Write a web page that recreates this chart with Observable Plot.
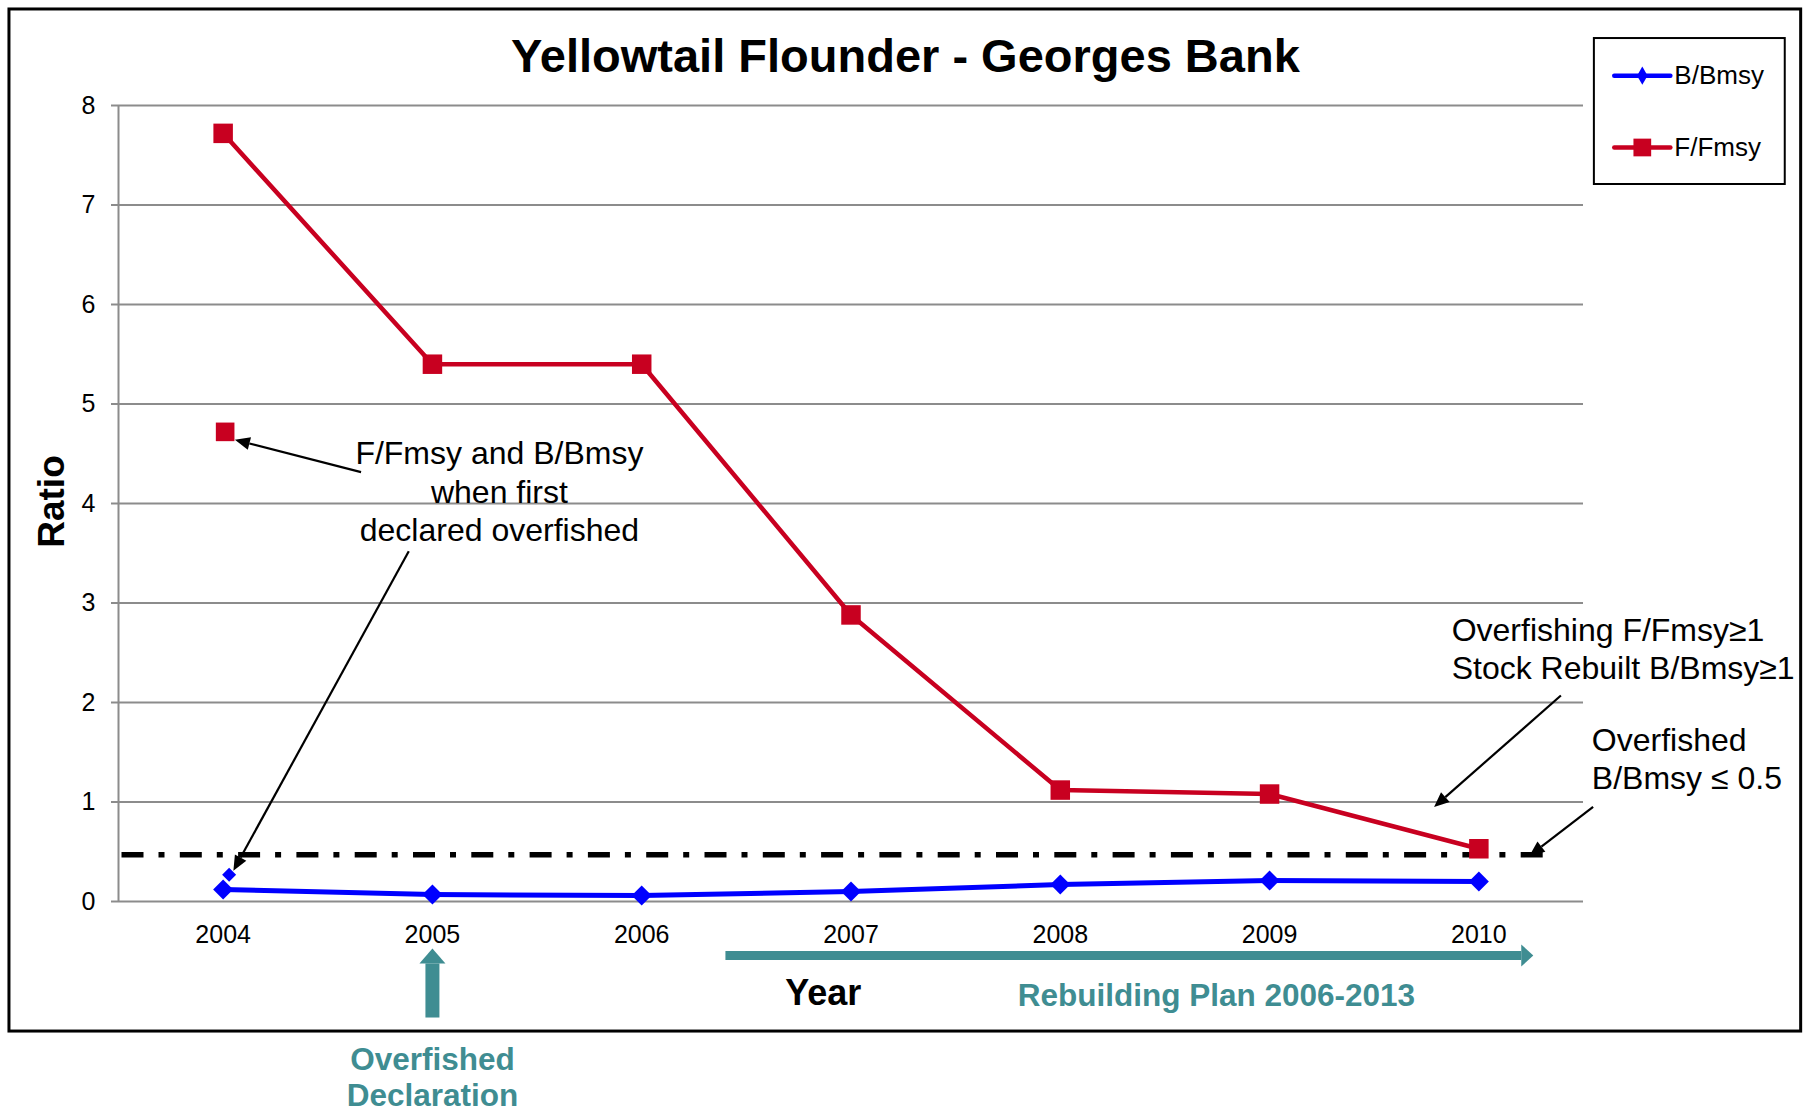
<!DOCTYPE html>
<html><head><meta charset="utf-8">
<script src="https://cdn.jsdelivr.net/npm/d3@7"></script>
<script src="https://cdn.jsdelivr.net/npm/@observablehq/plot@0.6"></script>
<style>body{margin:0;background:#fff;} svg{display:block}</style>
</head><body><div id="chart"></div>
<script>
// ---- data ----
const years = [2004, 2005, 2006, 2007, 2008, 2009, 2010];
const fRatio = [7.72, 5.40, 5.40, 2.88, 1.12, 1.08, 0.53];   // F/Fmsy
const bRatio = [0.12, 0.07, 0.06, 0.10, 0.17, 0.21, 0.20];   // B/Bmsy
const firstDeclaredYear = 2004;
const firstDeclaredF = 4.72;
const firstDeclaredB = 0.27;
const overfishedThreshold = 0.47;
const yTicks = [0, 1, 2, 3, 4, 5, 6, 7, 8];
const xTicks = years;
const seriesNames = ["B/Bmsy", "F/Fmsy"];
const titleText = "Yellowtail Flounder - Georges Bank";

// annotation anchors in data space (x = year, y = ratio)
const noteTexts = [
  {x: 2005.32, y: 4.666, text: "F/Fmsy and B/Bmsy\nwhen first\ndeclared overfished", anchor: "middle"},
  {x: 2009.87, y: 2.896, text: "Overfishing F/Fmsy\u22651\nStock Rebuilt B/Bmsy\u22651", anchor: "start"},
  {x: 2010.54, y: 1.786, text: "Overfished\nB/Bmsy \u2264 0.5", anchor: "start"}
];
const blackArrows = [
  {x1: 2004.659, y1: 4.315, x2: 2004.056, y2: 4.64},
  {x1: 2004.887, y1: 3.52, x2: 2004.049, y2: 0.31},
  {x1: 2010.392, y1: 2.07, x2: 2009.786, y2: 0.95},
  {x1: 2010.546, y1: 0.95, x2: 2010.242, y2: 0.46}
];
const rebuildArrow = [{x1: 2006.40, y1: -0.543, x2: 2010.26, y2: -0.543}];
const declArrow = [{x1: 2005, y1: -1.166, x2: 2005, y2: -0.472}];
const tealLabels = [
  {x: 2008.746, y: -0.794, text: "Rebuilding Plan 2006-2013"},
  {x: 2005.0, y: -1.433, text: "Overfished\nDeclaration"}
];
const frameBox = [{x1: 2002.979, x2: 2011.54, y1: 8.965, y2: -1.307}];
const legendBox = [{x1: 2010.552, x2: 2011.464, y1: 8.673, y2: 7.206}];
const legendRows = [
  {name: seriesNames[0], y: 8.30, xa: 2010.647, xb: 2010.915, xm: 2010.781, xt: 2010.934},
  {name: seriesNames[1], y: 7.578, xa: 2010.647, xb: 2010.915, xm: 2010.781, xt: 2010.934}
];
const thresholdSpan = [{x1: 2003.5, x2: 2010.346, y: overfishedThreshold}];

// ---- styles ----
const RED = "#c80020", BLUE = "#0000ff", TEAL = "#3f8d92", GRID = "#8c8c8c";
const FONT = "'Liberation Sans', Arial, sans-serif";

const table = years.map((year, i) => ({year, f: fRatio[i], b: bRatio[i]}));

const plot = Plot.plot({
  width: 1810, height: 1112,
  marginLeft: 118, marginRight: 227, marginTop: 105, marginBottom: 211,
  style: {fontFamily: FONT, background: "white", color: "black"},
  x: {type: "linear", domain: [2003.5, 2010.5]},
  y: {domain: [0, 8]},
  marks: [
    Plot.rect(frameBox, {x1: "x1", x2: "x2", y1: "y1", y2: "y2", fill: "none", stroke: "black", strokeWidth: 3}),
    Plot.ruleY(yTicks, {stroke: GRID, strokeWidth: 2}),
    Plot.ruleX([2003.5], {y1: 0, y2: 8, stroke: GRID, strokeWidth: 2}),
    Plot.axisY({ticks: yTicks, tickSize: 7, tickPadding: 16, stroke: GRID, strokeWidth: 2, fontSize: 25, label: null}),
    Plot.axisX({ticks: xTicks, tickFormat: "d", tickSize: 0, tickPadding: 24, fontSize: 25, label: null}),
    Plot.link(thresholdSpan, {x1: "x1", x2: "x2", y1: "y", y2: "y", stroke: "black", strokeWidth: 5.5,
      strokeDasharray: "22 15 6 15.3", strokeDashoffset: -3}),
    Plot.line(table, {x: "year", y: "f", stroke: RED, strokeWidth: 4.5}),
    Plot.line(table, {x: "year", y: "b", stroke: BLUE, strokeWidth: 5}),
    Plot.dot(table, {x: "year", y: "f", symbol: "square", r: 11, fill: RED}),
    Plot.dot(table, {x: "year", y: "b", symbol: "diamond2", r: 9, fill: BLUE}),
    Plot.dot([{year: firstDeclaredYear, v: firstDeclaredF}], {x: "year", y: "v", symbol: "square", r: 10.5, fill: RED, dx: 2}),
    Plot.dot([{year: firstDeclaredYear, v: firstDeclaredB}], {x: "year", y: "v", symbol: "diamond2", r: 6.3, fill: BLUE, dx: 6}),
    Plot.link(blackArrows, {x1: "x1", y1: "y1", x2: "x2", y2: "y2", stroke: "black", strokeWidth: 2.2, ariaDescription: "arrow-black"}),
    Plot.link(rebuildArrow, {x1: "x1", y1: "y1", x2: "x2", y2: "y2", stroke: TEAL, strokeWidth: 9, ariaDescription: "arrow-rebuild"}),
    Plot.link(declArrow, {x1: "x1", y1: "y1", x2: "x2", y2: "y2", stroke: TEAL, strokeWidth: 14, ariaDescription: "arrow-decl"}),
    Plot.text(noteTexts.filter(d => d.anchor === "middle"), {x: "x", y: "y", text: "text", textAnchor: "middle", lineAnchor: "top", fontSize: 32, lineHeight: 1.2, fill: "black"}),
    Plot.text(noteTexts.filter(d => d.anchor === "start"), {x: "x", y: "y", text: "text", textAnchor: "start", lineAnchor: "top", fontSize: 32, lineHeight: 1.2, fill: "black"}),
    Plot.text(tealLabels, {x: "x", y: "y", text: "text", textAnchor: "middle", lineAnchor: "top", fontSize: 31.5, fontWeight: "bold", lineHeight: 1.15, fill: TEAL}),
    Plot.text([{x: 2006.867, y: -0.779, t: "Year"}], {x: "x", y: "y", text: "t", lineAnchor: "top", fontSize: 36, fontWeight: "bold", fill: "black"}),
    Plot.text([{x: 2003.185, y: 4.02, t: "Ratio"}], {x: "x", y: "y", text: "t", rotate: -90, fontSize: 37, fontWeight: "bold", fill: "black"}),
    Plot.text([{x: 2007.26, y: 8.67, t: titleText}], {x: "x", y: "y", text: "t", lineAnchor: "top", fontSize: 47, fontWeight: "bold", fill: "black"}),
    // legend
    Plot.rect(legendBox, {x1: "x1", x2: "x2", y1: "y1", y2: "y2", fill: "white", stroke: "black", strokeWidth: 2}),
    Plot.link(legendRows, {x1: "xa", x2: "xb", y1: "y", y2: "y", stroke: d => d.name === seriesNames[0] ? BLUE : RED, strokeWidth: 4.5, strokeLinecap: "round"}),
    Plot.dot(legendRows.filter(d => d.name === seriesNames[0]), {x: "xm", y: "y", symbol: "diamond", r: 5.5, fill: BLUE}),
    Plot.dot(legendRows.filter(d => d.name === seriesNames[1]), {x: "xm", y: "y", symbol: "square", r: 10, fill: RED}),
    Plot.text(legendRows, {x: "xt", y: "y", text: "name", textAnchor: "start", lineAnchor: "middle", fontSize: 26, fill: "black"})
  ]
});

// turn plain links into arrows with filled triangular heads
function fillHeads(svg, desc, headLen, headWidth, color) {
  d3.select(svg).selectAll(`g[aria-description="${desc}"] path`).each(function () {
    const nums = (this.getAttribute("d").match(/-?\d*\.?\d+(?:e[-+]?\d+)?/gi) || []).map(Number);
    if (nums.length < 4) return;
    const x1 = nums[0], y1 = nums[1], x2 = nums[nums.length - 2], y2 = nums[nums.length - 1];
    const L = Math.hypot(x2 - x1, y2 - y1); if (!L) return;
    const ux = (x2 - x1) / L, uy = (y2 - y1) / L;
    const bx = x2 - ux * headLen, by = y2 - uy * headLen;
    this.setAttribute("d", `M${x1},${y1}L${bx},${by}`);
    const nx = -uy, ny = ux, h = headWidth / 2;
    d3.select(this.parentNode).append("path")
      .attr("d", `M${x2},${y2}L${bx + nx * h},${by + ny * h}L${bx - nx * h},${by - ny * h}Z`)
      .attr("fill", color).attr("stroke", "none");
  });
}
fillHeads(plot, "arrow-black", 15, 13, "black");
fillHeads(plot, "arrow-rebuild", 12, 22, TEAL);
fillHeads(plot, "arrow-decl", 15, 26, TEAL);

document.getElementById("chart").appendChild(plot);
</script>
</body></html>
